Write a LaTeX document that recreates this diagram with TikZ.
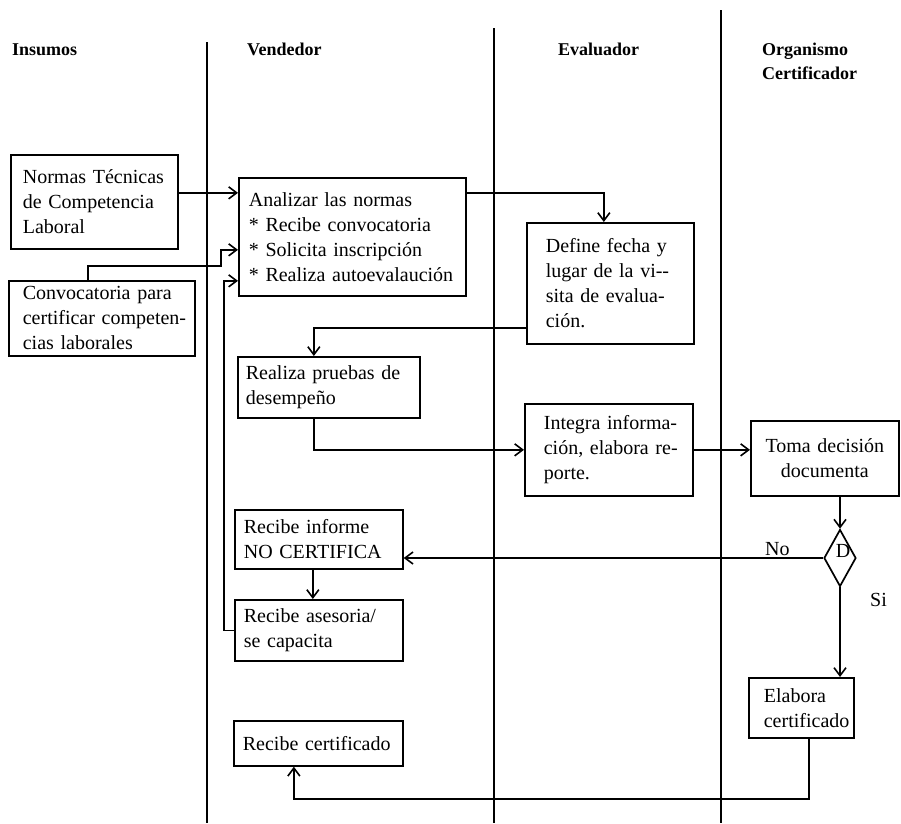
\documentclass[tikz,border=0pt]{standalone}
\usepackage{fontspec}
\setmainfont{Liberation Serif}
\usetikzlibrary{arrows.meta,shapes.geometric}

% one unbreakable line of box text
\newcommand\bxline[1]{\mbox{#1}}

\tikzset{
  lane/.style={line width=1.3pt},
  head/.style={anchor=base west, inner sep=0pt, font=\bfseries\fontsize{18}{24}\selectfont},
  box/.style={draw, line width=1.7pt, anchor=north west, inner ysep=2pt,
    align=left, font=\fontsize{20}{25}\selectfont},
  cbox/.style={box, align=center},
  conn/.style={line width=1.6pt},
  arr/.style={conn, -{Straight Barb[length=8pt,width=12pt,line width=1.6pt]}},
  tag/.style={inner sep=0pt, font=\fontsize{20}{25}\selectfont},
}

\begin{document}
\begin{tikzpicture}[x=1pt, y=-1pt]
  \fill[white] (0,0) rectangle (901,823);
  \useasboundingbox (0,0) rectangle (901,823);

  % swimlane separators
  \draw[lane] (207,42) -- (207,823);
  \draw[lane] (494,28) -- (494,823);
  \draw[lane] (721,10) -- (721,823);

  % lane headings
  \node[head] (hins) at (12,55) {Insumos};
  \node[head] (hven) at (247,55) {Vendedor};
  \node[head] (heva) at (558,55) {Evaluador};
  \node[head] (horg) at (762,55) {Organismo};
  \node[head] (hcer) at (762,79) {Certificador};

  % inputs
  \node[box, inner xsep=12pt, text width=143pt, minimum height=94pt] (normas) at (10,154)
    {\bxline{Normas Técnicas}\\\bxline{de Competencia}\\\bxline{Laboral}};
  \node[box, inner xsep=14pt, text width=158pt, minimum height=75pt] (conv) at (8,280)
    {\bxline{Convocatoria para}\\\bxline{certificar competen-}\\\bxline{cias laborales}};

  % seller
  \node[box, inner xsep=10pt, text width=207pt, minimum height=118pt] (analizar) at (238,177)
    {\bxline{Analizar las normas}\\\bxline{* Recibe convocatoria}\\\bxline{* Solicita inscripción}\\\bxline{* Realiza autoevalaución}};
  \node[box, inner xsep=8pt, text width=166pt, minimum height=61pt] (realiza) at (237,356)
    {\bxline{Realiza pruebas de}\\\bxline{desempeño}};
  \node[box, inner xsep=9pt, text width=150pt, minimum height=59pt] (informe) at (234,509)
    {\bxline{Recibe informe}\\\bxline{NO CERTIFICA}};
  \node[box, inner xsep=9pt, text width=150pt, minimum height=61pt] (asesoria) at (234,599)
    {\bxline{Recibe asesoria/}\\\bxline{se capacita}};
  \node[box, inner xsep=9pt, text width=151pt, minimum height=45pt] (certif) at (233,720)
    {\bxline{Recibe certificado}};

  % evaluator
  \node[box, inner xsep=19pt, text width=129pt, minimum height=121pt] (define) at (526,222)
    {\bxline{Define fecha y}\\\bxline{lugar de la vi-{}-}\\\bxline{sita de evalua-}\\\bxline{ción.}};
  \node[box, inner xsep=19pt, text width=130pt, minimum height=92pt] (integra) at (524,403)
    {\bxline{Integra informa-}\\\bxline{ción, elabora re-}\\\bxline{porte.}};

  % certifying body
  \node[cbox, inner xsep=8pt, text width=132pt, minimum height=75pt] (toma) at (750,420)
    {\bxline{Toma decisión}\\\bxline{documenta}};
  \node[diamond, draw, line width=1.7pt, inner sep=0pt, minimum width=32pt,
        minimum height=57pt] (decision) at (840,558) {};
  \node[tag] (dlab) at (843,551) {D};
  \node[box, inner xsep=15pt, text width=75pt, minimum height=60pt] (elabora) at (748,677)
    {\bxline{Elabora}\\\bxline{certificado}};

  % flow
  \draw[arr] ([yshift=9pt]normas.east) -- ([yshift=9pt]normas.east -| analizar.west);
  \draw[arr] ([xshift=-14pt]conv.north) -- ++(0,-14) -- ++(133,0)
    |- ([yshift=-13pt]analizar.west);
  \draw[arr] (asesoria.west) -- ++(-10,0) |- ([yshift=-44pt]analizar.west);
  \draw[arr] ([yshift=44pt]analizar.east) -| ([xshift=-6.5pt]define.north);
  \draw[arr] ([yshift=-44.5pt]define.west) -| ([xshift=-15pt]realiza.north);
  \draw[arr] ([xshift=-15pt]realiza.south) |- (integra.west);
  \draw[arr] (integra.east) -- (integra.east -| toma.west);
  \draw[arr] (toma.south -| decision.north) -- (decision.north);
  \draw[arr] (decision.west) -- (decision.west -| informe.east);
  \draw[arr] ([xshift=-6pt]informe.south) -- ([xshift=-6pt]informe.south |- asesoria.north);
  \draw[arr] (decision.south) -- (decision.south |- elabora.north);
  \draw[arr] ([xshift=7.5pt]elabora.south) -- ++(0,60) -| ([xshift=-24.5pt]certif.south);

  % branch labels
  \node[tag, anchor=base west] (nolab) at (765,555) {No};
  \node[tag, anchor=west] (silab) at (870,600) {Si};
\end{tikzpicture}
\end{document}
